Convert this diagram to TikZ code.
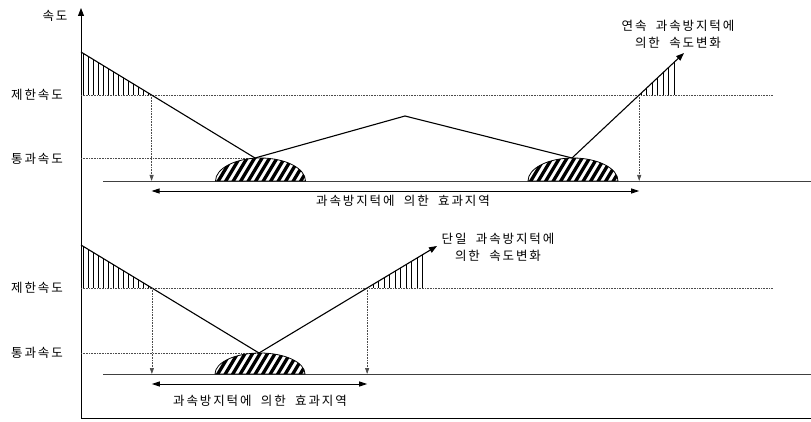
\documentclass[tikz,border=0pt]{standalone}
\usepackage{fontspec}
\newfontfamily\kr[LetterSpace=15]{Noto Sans CJK KR}
\usetikzlibrary{arrows.meta,calc}
\tikzset{
  lbl/.style={font=\kr\fontsize{12.5}{17}\selectfont, inner sep=0pt, align=center},
  speed/.style={line width=1.1pt, black},
  speedarr/.style={speed, -{Triangle[length=8pt,width=6pt]}},
  road/.style={line width=0.9pt, black!75},
  guide/.style={line width=0.7pt, black!70, dash pattern=on 1pt off 0.6pt},
  guidearr/.style={guide, -{Triangle[length=6pt,width=4pt]}},
  zonearr/.style={line width=0.9pt, black, {Triangle[length=8pt,width=5pt]}-{Triangle[length=8pt,width=5pt]}},
  axis/.style={line width=0.9pt, black, -{Triangle[length=8pt,width=6pt]}},
  hatch/.style={line width=0.7pt, black},
}
\newcommand{\hump}[2]{% center x, base y
  \begin{scope}
    \path[clip] (#1pt-45pt,#2) arc[start angle=180,end angle=0,x radius=45pt,y radius=23pt] -- cycle;
    \foreach \i in {-80,-72.5,...,80} {
      \draw[line width=3.3pt] ({#1+\i-12},{#2+8}) -- ({#1+\i+12},{#2-32});
    }
  \end{scope}
  \draw[line width=0.8pt] (#1pt-45pt,#2) arc[start angle=180,end angle=0,x radius=45pt,y radius=23pt] -- cycle;
}
\begin{document}
\begin{tikzpicture}[x=1pt,y=-1pt]
\useasboundingbox (0,0) rectangle (811,422);
\clip (0,0) rectangle (811,422);

% axes
\coordinate (O) at (81,418);
\coordinate (Ytop) at (81,8);
\coordinate (Xend) at (819,418);
\draw[axis] (O) -- (Ytop);
\draw[axis] (O) -- (Xend);
\node[lbl] (ylab) at (55,16) {속도};

% ---------- top graph ----------
\coordinate (T0) at (81,52);
\coordinate (T1) at (255,158);
\coordinate (T2) at (405,116);
\coordinate (T3) at (572,158);
\coordinate (T4) at (684,53);
\coordinate (LL1) at (81,95);
\coordinate (LL2) at (773,95);
\coordinate (PL1) at (81,158);
\coordinate (R1) at (103,181);
\coordinate (R2) at (811,181);
\coordinate (ey) at (0,191);
\coordinate (TA) at (intersection of T0--T1 and LL1--LL2);
\coordinate (TB) at (intersection of T3--T4 and LL1--LL2);
\coordinate (TH) at (676,95);
\coordinate (THu) at (676,0);
\coordinate (TT) at (intersection of T3--T4 and TH--THu);

% hatching
\begin{scope}
  \clip (T0) -- (TA) -- (LL1) -- cycle;
  \foreach \x in {83,88,...,150} \draw[hatch] (\x,40) -- (\x,95);
\end{scope}
\begin{scope}
  \clip (TB) -- (TT) -- ($(TH)+(0.5,0)$) -- cycle;
  \foreach \x in {641,646.5,...,677} \draw[hatch] (\x,40) -- (\x,95);
\end{scope}

\draw[guide] (LL1) -- (LL2);
\draw[guide] (PL1) -- (T1);
\draw[road] (R1) -- (R2);
\hump{260.5}{181}
\hump{573}{181}
\draw[speed] (T0) -- (T1) -- (T2) -- (T3);
\draw[speedarr] (T3) -- (T4);
\draw[guidearr] (TA) -- (TA |- R1);
\draw[guidearr] (TB) -- (TB |- R1);
\draw[zonearr] (TA |- ey) -- (TB |- ey);
\node[lbl] (zt) at (403,201) {과속방지턱에\ \ 의한\ \ 효과지역};
\node[lbl] (lt1) at (37,95) {제한속도};
\node[lbl] (pt1) at (37,159) {통과속도};
\node[lbl] (ct) at (678,34) {연속\ \ 과속방지턱에\\의한\ \ 속도변화};

% ---------- bottom graph ----------
\coordinate (B0) at (81,245);
\coordinate (B1) at (259,353);
\coordinate (B2) at (437,246);
\coordinate (BL1) at (81,288);
\coordinate (BL2) at (773,288);
\coordinate (BP1) at (81,353);
\coordinate (BR1) at (103,374);
\coordinate (BR2) at (811,374);
\coordinate (bey) at (0,384);
\coordinate (BA) at (intersection of B0--B1 and BL1--BL2);
\coordinate (BB) at (intersection of B1--B2 and BL1--BL2);
\coordinate (BH) at (428,288);
\coordinate (BHu) at (428,200);
\coordinate (BT) at (intersection of B1--B2 and BH--BHu);

\begin{scope}
  \clip (B0) -- (BA) -- (BL1) -- cycle;
  \foreach \x in {83,88,...,155} \draw[hatch] (\x,235) -- (\x,288);
\end{scope}
\begin{scope}
  \clip (BB) -- (BT) -- ($(BH)+(0.5,0)$) -- cycle;
  \foreach \x in {373,378.5,...,429} \draw[hatch] (\x,235) -- (\x,288);
\end{scope}

\draw[guide] (BL1) -- (BL2);
\draw[guide] (BP1) -- (B1);
\draw[road] (BR1) -- (BR2);
\begin{scope}
  \path[clip] (215pt,374) arc[start angle=180,end angle=0,x radius=45pt,y radius=21pt] -- cycle;
  \foreach \i in {-80,-72.5,...,80} \draw[line width=3.3pt] ({260+\i-12},382) -- ({260+\i+12},342);
\end{scope}
\draw[line width=0.8pt] (215pt,374) arc[start angle=180,end angle=0,x radius=45pt,y radius=21pt] -- cycle;
\draw[speed] (B0) -- (B1);
\draw[speedarr] (B1) -- (B2);
\draw[guidearr] (BA) -- (BA |- BR1);
\draw[guidearr] (BB) -- (BB |- BR1);
\draw[zonearr] (BA |- bey) -- (BB |- bey);
\node[lbl] (zb) at (260,401) {과속방지턱에\ \ 의한\ \ 효과지역};
\node[lbl] (lt2) at (37,288) {제한속도};
\node[lbl] (pt2) at (37,353) {통과속도};
\node[lbl] (cb) at (498,247) {단일\ \ 과속방지턱에\\의한\ \ 속도변화};
\end{tikzpicture}
\end{document}
